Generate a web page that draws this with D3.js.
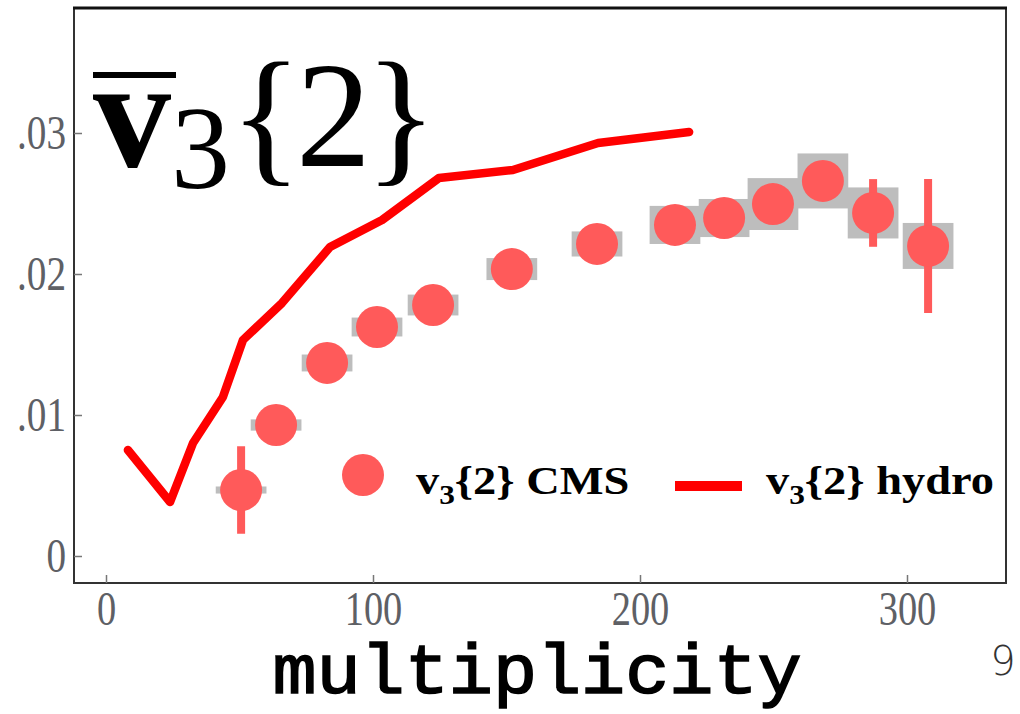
<!DOCTYPE html>
<html>
<head>
<meta charset="utf-8">
<script src="https://cdn.jsdelivr.net/npm/d3@7"></script>
<style>
  html, body { margin: 0; padding: 0; background: #fff; }
  svg { display: block; }
</style>
</head>
<body>
<div id="chart"></div>
<script>
// CMS v3{2} points (multiplicity, value, stat error, syst error)
const multCMS = [50.6, 63.7, 82.8, 101.5, 122.5, 152, 183.9, 213.1, 231.5, 249.8, 268.5, 287.3, 307.9];
const v3CMS   = [0.00468, 0.00929, 0.01369, 0.01624, 0.0178, 0.02035, 0.02213, 0.02348, 0.02397, 0.02496, 0.0266, 0.02433, 0.02199];
const statCMS = [0.0031, 0.0008, 0.0008, 0.0008, 0.0008, 0.0008, 0.0008, 0.0009, 0.0009, 0.001, 0.0011, 0.0024, 0.00475];
const sysCMS  = [0.00025, 0.0004, 0.0006, 0.00067, 0.00074, 0.00078, 0.00089, 0.00135, 0.00135, 0.00184, 0.00195, 0.00181, 0.00163];
const binHalf = 9.5;

// hydro curve
const multHydro = [8.2, 24.0, 32.6, 43.8, 51.3, 65.9, 83.9, 103.4, 124.7, 152.4, 184.3, 218.4];
const v3Hydro   = [0.00752, 0.00383, 0.00801, 0.01128, 0.01532, 0.01794, 0.02191, 0.02383, 0.02681, 0.02738, 0.02929, 0.03007];

const xTicks = [0, 100, 200, 300];
const yTicks = [0, 0.01, 0.02, 0.03];

const W = 1020, H = 714;
const frame = {left: 74, right: 1006, top: 8, bottom: 583};

const svg = d3.select("#chart").append("svg")
    .attr("width", W)
    .attr("height", H);

const x = d3.scaleLinear().domain([0, 300]).range([106, 907]);
const y = d3.scaleLinear().domain([0, 0.03]).range([556, 133]);

const pink = "#ff5a5a";
const red = "#ff0000";

// frame
svg.append("rect")
    .attr("x", frame.left).attr("y", frame.top)
    .attr("width", frame.right - frame.left)
    .attr("height", frame.bottom - frame.top)
    .attr("fill", "none")
    .attr("stroke", "#333")
    .attr("stroke-width", 2);
svg.append("line")
    .attr("x1", frame.left - 1).attr("x2", frame.right + 1)
    .attr("y1", frame.top).attr("y2", frame.top)
    .attr("stroke", "#111").attr("stroke-width", 3);

// squeeze axis labels horizontally (they are narrow in the original)
let squeeze = function(sel){
    sel.selectAll("text").each(function(){
        let t = d3.select(this)
        let tx = +t.attr("x") || 0, ty = +t.attr("y") || 0
        t.attr("x", 0).attr("y", 0)
         .attr("transform", `translate(${tx},${ty}) scale(0.8,1)`)
    })
}

const yAxis = svg.append("g")
    .attr("transform", `translate(${frame.left},0)`)
    .call(d3.axisLeft(y).tickValues(yTicks)
        .tickSizeInner(-8).tickSizeOuter(0).tickPadding(8)
        .tickFormat(d => d === 0 ? "0" : d3.format(".2f")(d).replace(/^0/, "")));
yAxis.select(".domain").remove();
yAxis.selectAll("line").attr("stroke", "#777").attr("stroke-width", 1.5);
yAxis.selectAll("text")
    .attr("font-family", "'Liberation Serif', serif")
    .attr("font-size", 49)
    .attr("fill", "#5e6065");
squeeze(yAxis);

const xAxis = svg.append("g")
    .attr("transform", `translate(0,${frame.bottom})`)
    .call(d3.axisBottom(x).tickValues(xTicks)
        .tickSizeInner(-8).tickSizeOuter(0).tickPadding(8)
        .tickFormat(d3.format("d")));
xAxis.select(".domain").remove();
xAxis.selectAll("line").attr("stroke", "#777").attr("stroke-width", 1.5);
xAxis.selectAll("text")
    .attr("font-family", "'Liberation Serif', serif")
    .attr("font-size", 48)
    .attr("fill", "#5e6065")
    .attr("dy", "0.7em");
squeeze(xAxis);

// plot area clip
svg.append("clipPath").attr("id", "plotClip")
  .append("rect")
    .attr("x", frame.left + 1).attr("y", frame.top + 1)
    .attr("width", frame.right - frame.left - 2)
    .attr("height", frame.bottom - frame.top - 2);

const plot = svg.append("g").attr("clip-path", "url(#plotClip)");

const cms = multCMS.map((m, i) => ({m: m, v: v3CMS[i], stat: statCMS[i], sys: sysCMS[i]}));

// systematic boxes
plot.append("g").selectAll("rect")
    .data(cms).enter().append("rect")
    .attr("x", d => x(d.m - binHalf))
    .attr("width", d => x(d.m + binHalf) - x(d.m - binHalf))
    .attr("y", d => y(d.v + d.sys))
    .attr("height", d => Math.max(6, y(d.v - d.sys) - y(d.v + d.sys)))
    .attr("fill", "#bdbdbd");

// stat error bars
plot.append("g").selectAll("line")
    .data(cms).enter().append("line")
    .attr("x1", d => x(d.m)).attr("x2", d => x(d.m))
    .attr("y1", d => y(d.v + d.stat))
    .attr("y2", d => y(d.v - d.stat))
    .attr("stroke", pink)
    .attr("stroke-width", 8);

// points
plot.append("g").selectAll("circle")
    .data(cms).enter().append("circle")
    .attr("cx", d => x(d.m))
    .attr("cy", d => y(d.v))
    .attr("r", 21)
    .attr("fill", pink);

// hydro line
const line = d3.line().x(d => x(d[0])).y(d => y(d[1]));
plot.append("path")
    .datum(multHydro.map((m, i) => [m, v3Hydro[i]]))
    .attr("d", line)
    .attr("fill", "none")
    .attr("stroke", red)
    .attr("stroke-width", 8.5)
    .attr("stroke-linejoin", "round")
    .attr("stroke-linecap", "round");

// big label v3{2}
const title = svg.append("text")
    .attr("x", 93).attr("y", 166)
    .attr("font-family", "'Liberation Serif', serif")
    .attr("fill", "#000");
title.append("tspan").attr("font-size", 156).attr("font-weight", "bold").text("v");
title.append("tspan").attr("font-size", 118).attr("dy", 22).text("3");
title.append("tspan").attr("font-size", 150).attr("dy", -22).attr("letter-spacing", -6).text("{2}");
svg.append("line")
    .attr("x1", 93).attr("x2", 176)
    .attr("y1", 75).attr("y2", 75)
    .attr("stroke", "#000").attr("stroke-width", 6);

// legend
const legend = svg.append("g");
legend.append("circle").attr("cx", 363).attr("cy", 475).attr("r", 21).attr("fill", pink);

let legendText = function(x0, label){
    let t = legend.append("text")
        .attr("transform", `translate(${x0},494) scale(1.16,1)`)
        .attr("font-family", "'Liberation Serif', serif")
        .attr("font-weight", "bold")
        .attr("font-size", 40)
        .attr("fill", "#000");
    t.append("tspan").text("v");
    t.append("tspan").attr("font-size", 27).attr("dy", 10).text("3");
    t.append("tspan").attr("dy", -10).text("{2} " + label);
    return t;
}
legendText(416, "CMS");
legend.append("line")
    .attr("x1", 675).attr("x2", 742)
    .attr("y1", 486).attr("y2", 486)
    .attr("stroke", red).attr("stroke-width", 10);
legendText(766, "hydro");

// axis title
svg.append("text")
    .attr("transform", "translate(537,693) scale(1.05,1)")
    .attr("text-anchor", "middle")
    .attr("font-family", "'Liberation Mono', 'Courier New', monospace")
    .attr("font-size", 70)
    .attr("fill", "#000")
    .attr("stroke", "#000")
    .attr("stroke-width", 1.6)
    .text("multiplicity");

// page number
svg.append("text")
    .attr("x", 1003).attr("y", 675)
    .attr("text-anchor", "middle")
    .attr("font-family", "'DejaVu Sans', sans-serif")
    .attr("font-weight", 300)
    .attr("font-size", 40)
    .attr("fill", "#333")
    .text("9");
</script>
</body>
</html>
